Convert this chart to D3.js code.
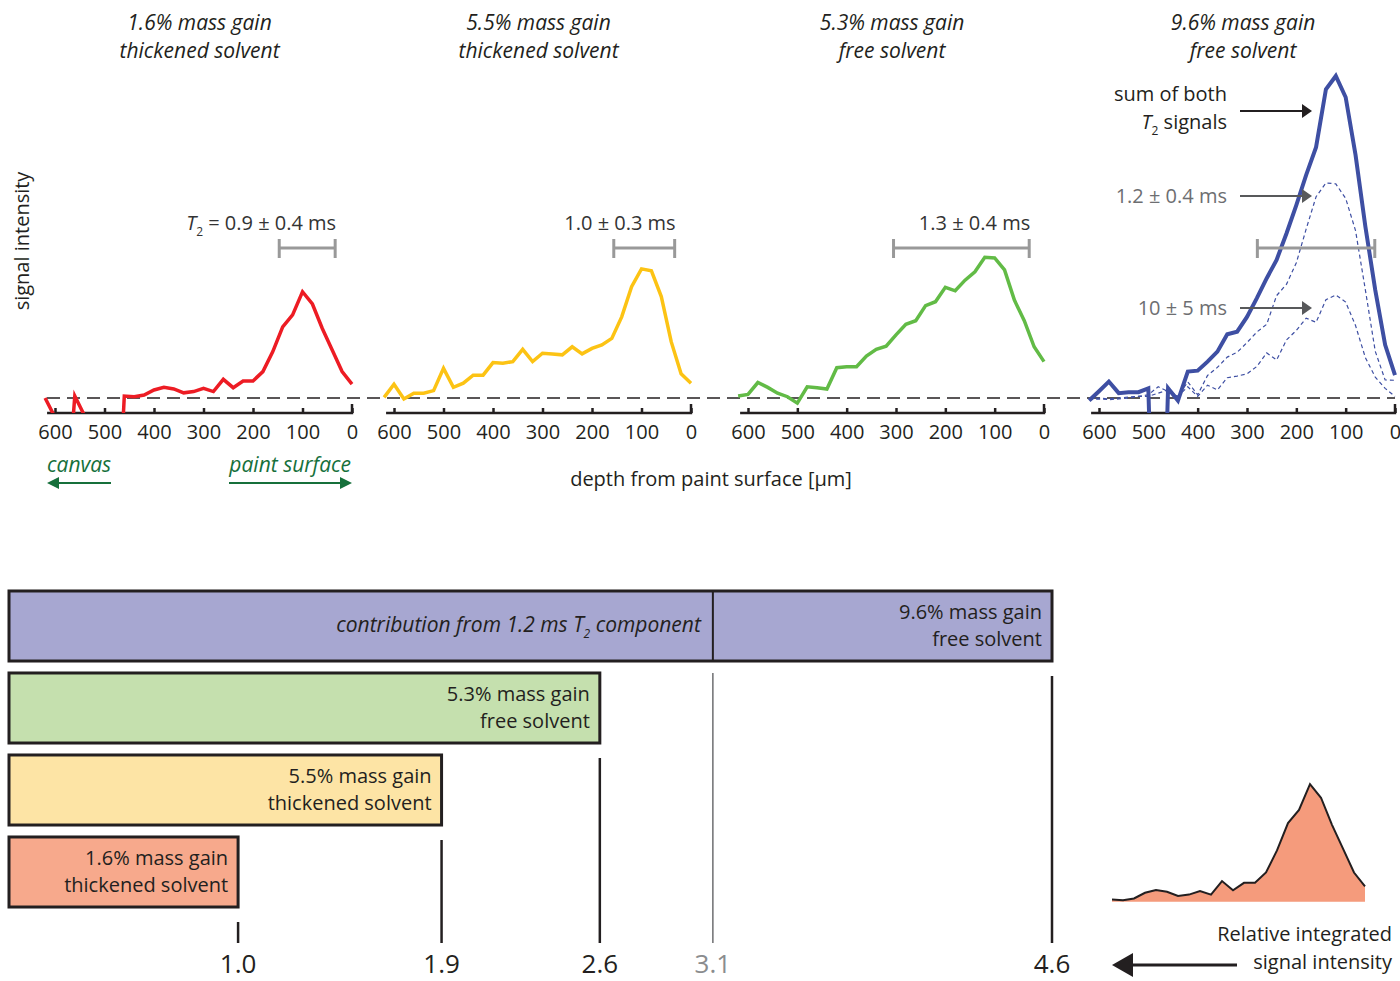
<!DOCTYPE html>
<html>
<head>
<meta charset="utf-8">
<script src="https://cdn.jsdelivr.net/npm/d3@7"></script>
<style>
body { margin: 0; background: #fff; }
svg text { font-family: "Open Sans", sans-serif; fill: #231f20; }
</style>
</head>
<body>
<div id="canvas"></div>
<script>
"use strict"

// depth samples, µm from paint surface (620 -> 0)
const depth = [620, 600, 580, 560, 540, 520, 500, 480, 460, 440, 420, 400, 380, 360, 340, 320,
               300, 280, 260, 240, 220, 200, 180, 160, 140, 120, 100, 80, 60, 40, 20, 0];

// signal intensity (arbitrary units), one value per depth
const sigRed    = [0, -6, -40, 0.6, -5.6, -30, -30, -60, 0.6, 0.4, 0.9, 2.5, 3.3, 2.8, 1.6, 2.0,
                   3.0, 2.0, 5.8, 3.2, 5.3, 5.3, 8.2, 14.4, 22.1, 25.8, 33.0, 29.2, 21.6, 14.9, 8.2, 4.3];
const sigYellow = [0.2, 4.3, -0.3, 1.5, 1.5, 2.3, 9.2, 3.3, 4.6, 7.1, 7.1, 11.0, 10.8, 11.3, 15.1, 11.3,
                   13.9, 13.7, 13.4, 15.9, 13.7, 15.4, 16.5, 18.5, 25.2, 34.6, 40.1, 39.5, 31.5, 17.5, 7.5, 4.6];
const sigGreen  = [0.6, 1.1, 4.8, 3.3, 1.5, 0.4, -1.6, 3.5, 3.2, 2.8, 9.4, 9.7, 9.7, 13.0, 15.1, 16.1,
                   19.6, 22.9, 24.0, 28.7, 29.9, 34.4, 33.3, 36.6, 39.2, 43.7, 43.5, 39.8, 30.4, 24.0, 15.9, 11.3];
const sigBlueSum  = [-0.8, 2.1, 5.1, 1.5, 1.8, 1.8, 3.0, -100, 3.0, -0.8, 8.2, 8.5, 11.3, 14.4, 19.8, 20.6,
                     25.2, 31.0, 37.2, 42.9, 51.1, 59.9, 69.3, 77.9, 95.9, 100, 93.4, 75.5, 53.2, 33.5, 16.5, 7.1];
const sigBlueFast = [-0.5, -0.3, -0.5, -0.3, 0, 0.5, 1.0, 3.5, 2.0, 0.5, 5.0, 1.0, 7.0, 9.5, 12.7, 14.2,
                     17.2, 20.5, 22.9, 31.8, 35.3, 42.0, 52.5, 62.5, 66.8, 66.5, 62.0, 52.0, 33.5, 14.5, 5.6, 5.5];
const sigBlueSlow = [-0.3, 0, -0.3, 0, 0.3, 0.5, 0.5, 1.5, 2.5, 0.5, 3.5, 0.5, 4.0, 2.5, 6.3, 6.8,
                     7.5, 9.8, 14.0, 11.8, 18.0, 21.0, 24.8, 23.5, 30.5, 32.0, 29.8, 22.5, 12.5, 6.5, 3.0, 0.5];

const depthTicks = [600, 500, 400, 300, 200, 100, 0];

const panelTitles = [
    ["1.6% mass gain", "thickened solvent"],
    ["5.5% mass gain", "thickened solvent"],
    ["5.3% mass gain", "free solvent"],
    ["9.6% mass gain", "free solvent"]
];
// T2 labels and the depth span of their bars
const t2Labels = ["= 0.9 ± 0.4 ms", "1.0 ± 0.3 ms", "1.3 ± 0.4 ms", ""];
const errSpans = [[147, 34], [156, 33], [305, 30], [279, 41]];

// bottom: relative integrated signal intensity
const barLabels = [
    ["9.6% mass gain", "free solvent"],
    ["5.3% mass gain", "free solvent"],
    ["5.5% mass gain", "thickened solvent"],
    ["1.6% mass gain", "thickened solvent"]
];
const barValues = [4.6, 2.6, 1.9, 1.0];
const fastContribution = 3.1;


// ---------- canvas ----------
let svgWidth = 1400;
let svgHeight = 981;
let svg = d3.select("#canvas").append("svg")
    .attr("width", svgWidth)
    .attr("height", svgHeight);

let ink = "#231f20";
let lineColors = ["#ed1c24", "#fcc314", "#62bb46", "#3e4fa3"];
let panelSeries = [sigRed, sigYellow, sigGreen, sigBlueSum];
// pixel position of depth 600 and depth 0 for each panel
let panelX = [[55, 352], [394, 691], [748, 1044], [1099, 1395]];
let axisY = 413;

let yScale = d3.scaleLinear().domain([0, 100]).range([398, 76]);

let rows = depth.map(function (d, i) { return i; });

// arrow helper: horizontal line with a filled triangle head at x2
function arrow(g, x1, x2, yy, color, headLen, headHalf, width) {
    let dir = x2 > x1 ? 1 : -1;
    g.append("line")
        .attr("x1", x1).attr("x2", x2 - dir * headLen + dir)
        .attr("y1", yy).attr("y2", yy)
        .attr("stroke", color).attr("stroke-width", width);
    g.append("path")
        .attr("d", "M" + x2 + "," + yy + "L" + (x2 - dir * headLen) + "," + (yy - headHalf) +
            "L" + (x2 - dir * headLen) + "," + (yy + headHalf) + "Z")
        .attr("fill", color);
}

// label with italic T and subscript 2 in front
function t2Text(sel, rest) {
    sel.append("tspan").style("font-style", "italic").text("T");
    sel.append("tspan").attr("dy", 6).style("font-size", "12px").text("2");
    sel.append("tspan").attr("dy", -6).text(rest);
}


// ---------- top panels ----------
svg.append("line")
    .attr("x1", 47).attr("x2", 1395)
    .attr("y1", yScale(0)).attr("y2", yScale(0))
    .attr("stroke", ink).attr("stroke-width", 1.5)
    .attr("stroke-dasharray", "13,7");

panelSeries.forEach(function (series, i) {
    let x = d3.scaleLinear().domain([600, 0]).range(panelX[i]);
    let g = svg.append("g");

    // title
    let cx = (x(616) + x(0)) / 2;
    panelTitles[i].forEach(function (t, k) {
        g.append("text")
            .attr("x", cx).attr("y", 30 + k * 28)
            .attr("text-anchor", "middle")
            .style("font-size", "21px").style("font-style", "italic")
            .text(t);
    });

    // axis
    let axis = d3.axisBottom(x).tickValues(depthTicks).tickSize(-5).tickPadding(12).tickSizeOuter(0);
    let axG = g.append("g").attr("transform", "translate(0," + axisY + ")").call(axis);
    axG.select(".domain").remove();
    axG.selectAll(".tick line").attr("stroke", ink).attr("stroke-width", 2.5);
    axG.selectAll(".tick text").style("font-size", "20px");
    g.append("line")
        .attr("x1", x(616)).attr("x2", x(0) + 1.2)
        .attr("y1", axisY).attr("y2", axisY)
        .attr("stroke", ink).attr("stroke-width", 2.5);
    g.append("line")
        .attr("x1", x(0)).attr("x2", x(0))
        .attr("y1", axisY).attr("y2", axisY - 9)
        .attr("stroke", ink).attr("stroke-width", 2.5);

    // clip curves at the axis
    g.append("clipPath").attr("id", "clip" + i)
        .append("rect")
        .attr("x", x(630)).attr("y", 0)
        .attr("width", x(-10) - x(630)).attr("height", axisY);

    let line = d3.line()
        .x(function (r) { return x(depth[r]); })
        .y(function (r) { return yScale(series[r]); });

    if (i == 3) {
        [sigBlueFast, sigBlueSlow].forEach(function (s) {
            g.append("path")
                .attr("d", d3.line()
                    .x(function (r) { return x(depth[r]); })
                    .y(function (r) { return yScale(s[r]); })(rows))
                .attr("fill", "none")
                .attr("stroke", lineColors[3])
                .attr("stroke-width", 1.2)
                .attr("stroke-dasharray", "4,3")
                .attr("clip-path", "url(#clip" + i + ")");
        });
    }

    g.append("path")
        .attr("d", line(rows))
        .attr("fill", "none")
        .attr("stroke", lineColors[i])
        .attr("stroke-width", i == 3 ? 4 : 3.5)
        .attr("clip-path", "url(#clip" + i + ")");

    // T2 span bar
    let ex1 = x(errSpans[i][0]), ex2 = x(errSpans[i][1]);
    g.append("line")
        .attr("x1", ex1).attr("x2", ex2).attr("y1", 248).attr("y2", 248)
        .attr("stroke", "#999").attr("stroke-width", 3);
    [ex1, ex2].forEach(function (ex) {
        g.append("line")
            .attr("x1", ex).attr("x2", ex).attr("y1", 239).attr("y2", 258)
            .attr("stroke", "#999").attr("stroke-width", 3);
    });

    if (t2Labels[i] != "") {
        let lab = g.append("text")
            .attr("x", ex2 + 1).attr("y", 230)
            .attr("text-anchor", "end")
            .style("font-size", "20px").style("fill", "#333");
        if (i == 0) {
            t2Text(lab, " " + t2Labels[i]);
        } else {
            lab.text(t2Labels[i]);
        }
    }
});

// y label
svg.append("text")
    .attr("transform", "translate(29,241) rotate(-90)")
    .attr("text-anchor", "middle")
    .style("font-size", "20px")
    .text("signal intensity");

// x label
svg.append("text")
    .attr("x", 711).attr("y", 486)
    .attr("text-anchor", "middle")
    .style("font-size", "20px")
    .text("depth from paint surface [µm]");

// canvas / paint surface hints
let green = "#16703b";
svg.append("text").attr("x", 47).attr("y", 472)
    .style("font-size", "21px").style("font-style", "italic").style("fill", green)
    .text("canvas");
svg.append("text").attr("x", 351).attr("y", 472).attr("text-anchor", "end")
    .style("font-size", "21px").style("font-style", "italic").style("fill", green)
    .text("paint surface");
arrow(svg, 111, 47, 483, green, 12, 6, 2);
arrow(svg, 229, 352, 483, green, 12, 6, 2);

// panel 4 annotations
let a4 = svg.append("g");
a4.append("text").attr("x", 1227).attr("y", 101).attr("text-anchor", "end")
    .style("font-size", "20px").text("sum of both");
let t2s = a4.append("text").attr("x", 1227).attr("y", 129).attr("text-anchor", "end")
    .style("font-size", "20px");
t2Text(t2s, " signals");
arrow(a4, 1240, 1312, 111, ink, 10, 7, 2);

a4.append("text").attr("x", 1227).attr("y", 203).attr("text-anchor", "end")
    .style("font-size", "20px").style("fill", "#6d6e71").text("1.2 ± 0.4 ms");
arrow(a4, 1240, 1312, 196, "#58595b", 10, 7, 2);

a4.append("text").attr("x", 1227).attr("y", 315).attr("text-anchor", "end")
    .style("font-size", "20px").style("fill", "#6d6e71").text("10 ± 5 ms");
arrow(a4, 1240, 1312, 308, "#58595b", 10, 7, 2);


// ---------- bottom bars ----------
let barColors = ["#a7a7d1", "#c5e0ae", "#fde4a5", "#f7a98c"];
let bx = d3.scaleLinear().domain([0, 4.6]).range([12, 1052]);
let by = d3.scaleBand().domain(d3.range(barValues.length))
    .range([585, 913]).paddingInner(0.146).paddingOuter(0.073);
let tickBottom = 943;
let valueBase = 973;

let bars = svg.append("g");
barValues.forEach(function (v, i) {
    bars.append("rect")
        .attr("x", 9).attr("y", by(i))
        .attr("width", bx(v) - 9).attr("height", by.bandwidth())
        .attr("fill", barColors[i])
        .attr("stroke", ink).attr("stroke-width", 3);

    barLabels[i].forEach(function (t, k) {
        bars.append("text")
            .attr("x", bx(v) - 10).attr("y", by(i) + 28 + k * 27.5)
            .attr("text-anchor", "end")
            .style("font-size", "20px")
            .text(t);
    });

    // value marker line below the bar
    bars.append("line")
        .attr("x1", bx(v)).attr("x2", bx(v))
        .attr("y1", by(i) + by.bandwidth() + 15).attr("y2", tickBottom)
        .attr("stroke", ink).attr("stroke-width", 2.5);

    bars.append("text")
        .attr("x", bx(v)).attr("y", valueBase)
        .attr("text-anchor", "middle")
        .style("font-size", "26px")
        .text(v.toFixed(1));
});

// 1.2 ms component inside the 9.6% bar
bars.append("line")
    .attr("x1", bx(fastContribution)).attr("x2", bx(fastContribution))
    .attr("y1", by(0)).attr("y2", by(0) + by.bandwidth())
    .attr("stroke", ink).attr("stroke-width", 2);
let contrib = bars.append("text")
    .attr("x", bx(fastContribution) - 12).attr("y", by(0) + 41)
    .attr("text-anchor", "end")
    .style("font-size", "21px").style("font-style", "italic");
contrib.append("tspan").text("contribution from 1.2 ms ");
contrib.append("tspan").text("T");
contrib.append("tspan").attr("dy", 6).style("font-size", "12px").text("2");
contrib.append("tspan").attr("dy", -6).text(" component");

bars.append("line")
    .attr("x1", bx(fastContribution)).attr("x2", bx(fastContribution))
    .attr("y1", by(1)).attr("y2", tickBottom)
    .attr("stroke", "#6d6e71").attr("stroke-width", 1.5);
bars.append("text")
    .attr("x", bx(fastContribution)).attr("y", valueBase)
    .attr("text-anchor", "middle")
    .style("font-size", "26px").style("fill", "#8a8c8e")
    .text(fastContribution.toFixed(1));


// ---------- inset: integrated profile ----------
let insetRows = rows.filter(function (r) { return depth[r] <= 460; });
let ix = d3.scaleLinear().domain([460, 0]).range([1112, 1365]);
let iy = d3.scaleLinear().domain([0, 100]).range([901.7, 901.7 - 356]);

svg.append("path")
    .attr("d", d3.area()
        .x(function (r) { return ix(depth[r]); })
        .y0(iy(0))
        .y1(function (r) { return iy(sigRed[r]); })(insetRows))
    .attr("fill", "#f59b7c");
svg.append("path")
    .attr("d", d3.line()
        .x(function (r) { return ix(depth[r]); })
        .y(function (r) { return iy(sigRed[r]); })(insetRows))
    .attr("fill", "none")
    .attr("stroke", ink).attr("stroke-width", 2);

svg.append("text").attr("x", 1392).attr("y", 941).attr("text-anchor", "end")
    .style("font-size", "20px").text("Relative integrated");
svg.append("text").attr("x", 1392).attr("y", 969).attr("text-anchor", "end")
    .style("font-size", "20px").text("signal intensity");
arrow(svg, 1237, 1112, 965, ink, 21, 12, 3);
</script>
</body>
</html>
